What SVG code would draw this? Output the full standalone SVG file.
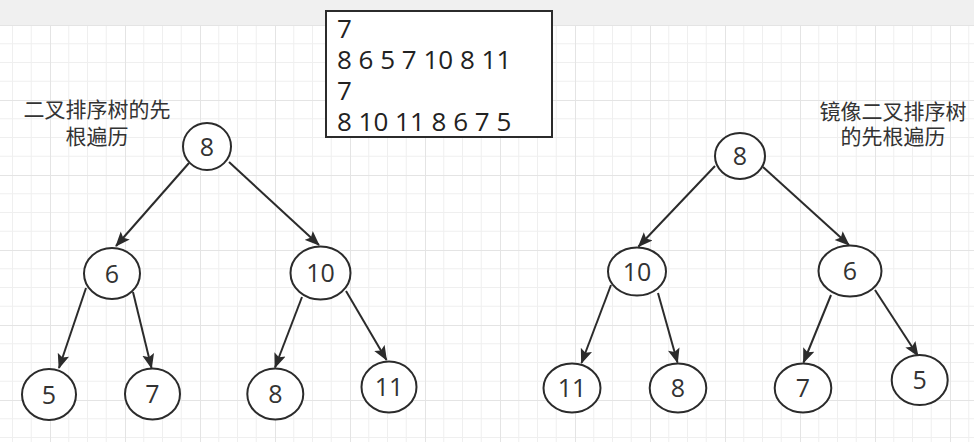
<svg xmlns="http://www.w3.org/2000/svg" width="974" height="442" viewBox="0 0 974 442">
<style>
.nd ellipse{fill:#fff;stroke:#2b2b2b;stroke-width:2}
.nd text{font-family:"Open Sans","Noto Sans",sans-serif;font-size:25px;fill:#333;text-anchor:middle}
.lbl{font-family:"Noto Sans CJK SC","Noto Sans",sans-serif;font-size:21px;fill:#333;text-anchor:middle}
.box text{font-family:"Open Sans","Noto Sans",sans-serif;font-size:26px;fill:#222}
#edges line{stroke:#2b2b2b;stroke-width:2;marker-end:url(#arr)}
</style>
<defs>
<pattern id="grid" patternUnits="userSpaceOnUse" x="50" y="25" width="75" height="75">
<rect width="75" height="75" fill="#fff"/>
<path d="M18.75 0V75M37.5 0V75M56.25 0V75M0 18.75H75M0 37.5H75M0 56.25H75" stroke="#efefef" stroke-width="1" fill="none"/>
<path d="M0.5 0V75M0 0.5H75" stroke="#e4e4e4" stroke-width="1" fill="none"/>
</pattern>
<marker id="arr" markerUnits="userSpaceOnUse" markerWidth="16" markerHeight="13" refX="14" refY="6.5" orient="auto">
<path d="M0,0.5 L15,6.5 L0,12.5 L3,6.5 Z" fill="#2b2b2b"/>
</marker>
</defs>
<rect width="974" height="442" fill="#f0f0f0"/>
<rect x="0" y="25" width="974" height="417" fill="url(#grid)"/>

<g id="summary" class="box">
<rect x="326" y="11" width="226" height="126" fill="#fff" stroke="#2b2b2b" stroke-width="2"/>
<text><tspan x="337" y="38">7</tspan><tspan x="337" y="69">8 6 5 7 10 8 11</tspan><tspan x="337" y="100">7</tspan><tspan x="337" y="131">8 10 11 8 6 7 5</tspan></text>
</g>

<g id="label-left">
<text class="lbl"><tspan x="97" y="116.5">二叉排序树的先</tspan><tspan x="97" y="143.5">根遍历</tspan></text>
</g>
<g id="label-right">
<text class="lbl"><tspan x="893" y="118.5">镜像二叉排序树</tspan><tspan x="893" y="143.7">的先根遍历</tspan></text>
</g>

<g id="edges">
<line x1="189" y1="163" x2="116" y2="246"/>
<line x1="229" y1="162" x2="319" y2="245"/>
<line x1="86" y1="288" x2="59" y2="368"/>
<line x1="133" y1="292" x2="151.5" y2="368"/>
<line x1="302" y1="297" x2="275" y2="367.5"/>
<line x1="346" y1="291" x2="386.5" y2="360"/>
<line x1="715" y1="166" x2="638.5" y2="246.5"/>
<line x1="763" y1="167" x2="849" y2="245"/>
<line x1="611" y1="285" x2="581.5" y2="363"/>
<line x1="658" y1="293" x2="677.5" y2="362.5"/>
<line x1="831" y1="295" x2="803.5" y2="362.5"/>
<line x1="875" y1="290" x2="918" y2="356"/>
</g>

<g id="n-l8" class="nd"><ellipse cx="207" cy="146.5" rx="24" ry="23.5"/><text x="207" y="155.5">8</text></g>
<g id="n-l6" class="nd"><ellipse cx="112" cy="273.5" rx="28" ry="25.5"/><text x="112" y="282.5">6</text></g>
<g id="n-l10" class="nd"><ellipse cx="320.5" cy="273" rx="30" ry="26.5"/><text x="320.5" y="282">10</text></g>
<g id="n-l5" class="nd"><ellipse cx="49" cy="394.5" rx="27" ry="25.5"/><text x="49" y="403.5">5</text></g>
<g id="n-l7" class="nd"><ellipse cx="152.5" cy="394" rx="27.5" ry="25.5"/><text x="152.5" y="403">7</text></g>
<g id="n-l8b" class="nd"><ellipse cx="275.3" cy="394" rx="28" ry="25.5"/><text x="275.3" y="403">8</text></g>
<g id="n-l11" class="nd"><ellipse cx="389" cy="387" rx="27.5" ry="25.5"/><text x="389" y="396">11</text></g>

<g id="n-r8" class="nd"><ellipse cx="740" cy="156" rx="25" ry="23"/><text x="740" y="165">8</text></g>
<g id="n-r10" class="nd"><ellipse cx="637" cy="271.5" rx="29" ry="24"/><text x="637" y="280.5">10</text></g>
<g id="n-r6" class="nd"><ellipse cx="850" cy="271" rx="31.5" ry="25.5"/><text x="850" y="280">6</text></g>
<g id="n-r11" class="nd"><ellipse cx="572" cy="388" rx="28.5" ry="24.5"/><text x="572" y="397">11</text></g>
<g id="n-r8b" class="nd"><ellipse cx="678" cy="388" rx="28.3" ry="24.5"/><text x="678" y="397">8</text></g>
<g id="n-r7" class="nd"><ellipse cx="803" cy="388" rx="28.3" ry="24.5"/><text x="803" y="397">7</text></g>
<g id="n-r5" class="nd"><ellipse cx="919.7" cy="380" rx="28" ry="25"/><text x="919.7" y="389">5</text></g>
</svg>
